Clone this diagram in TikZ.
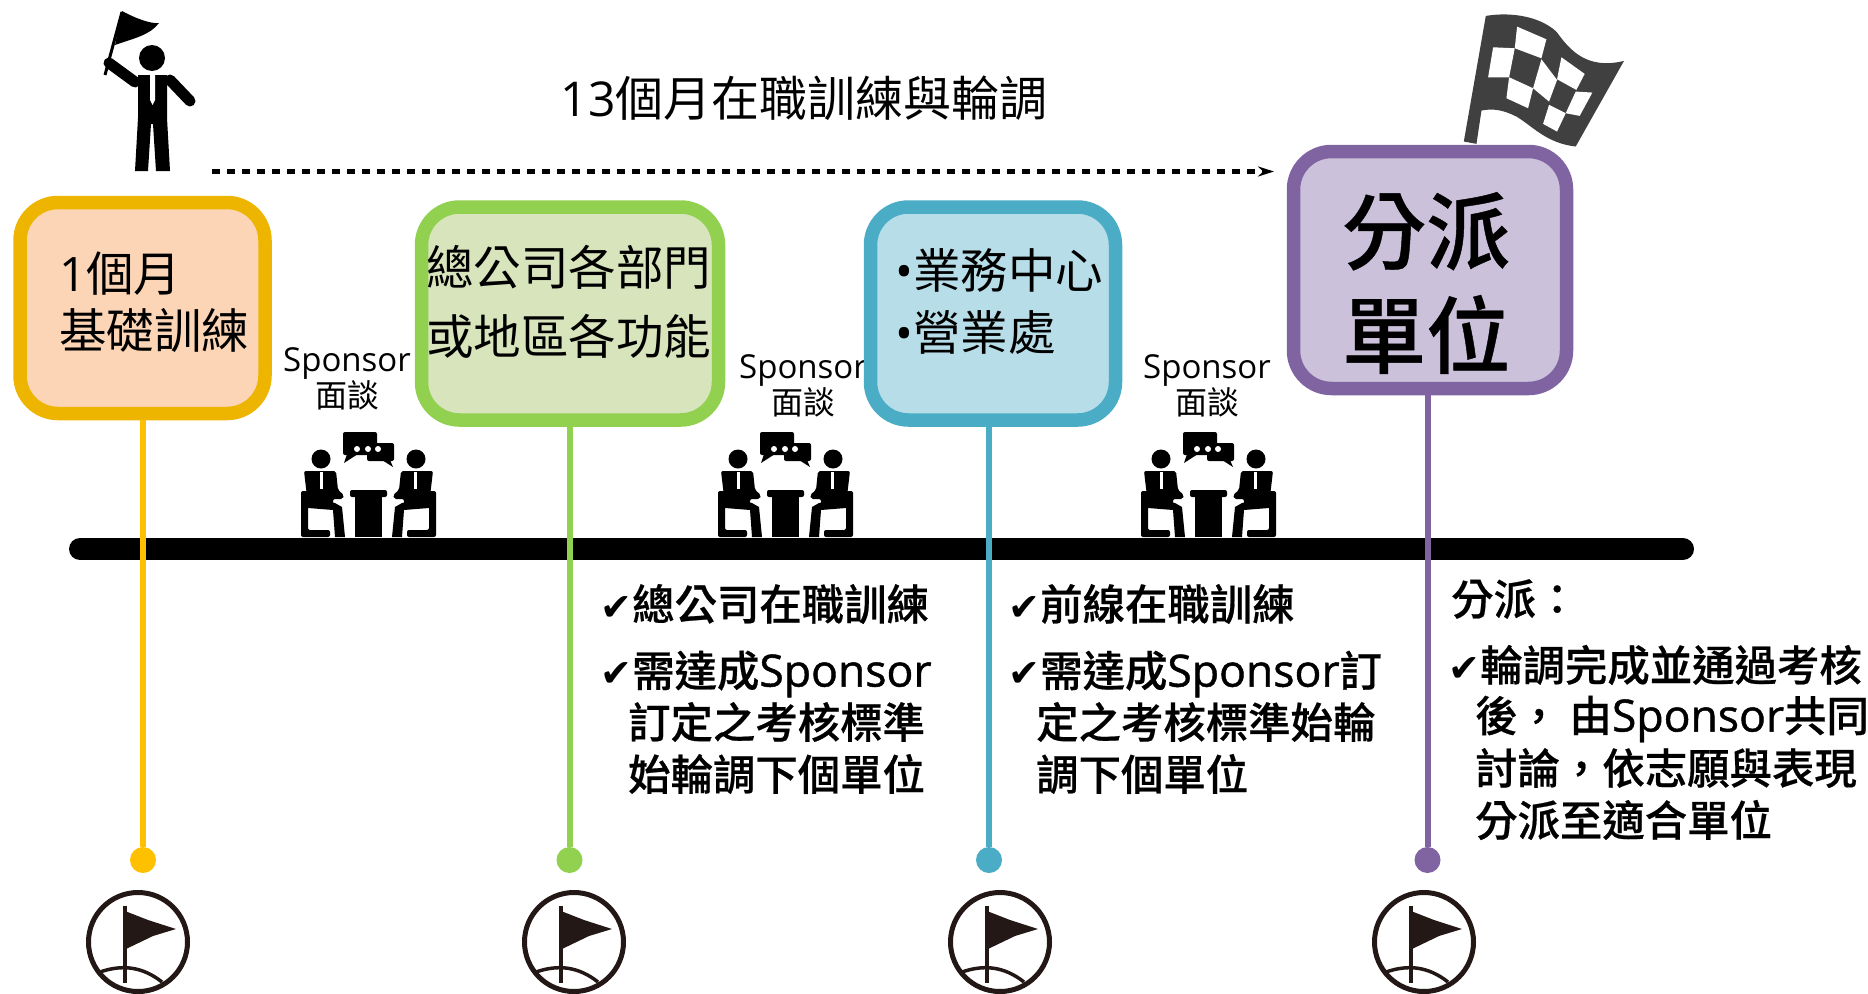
\documentclass[tikz,border=0pt]{standalone}
\usepackage{fontspec}
\setmainfont{Noto Sans CJK TC}
\newfontfamily\med[FakeBold=0.5]{Noto Sans CJK TC Medium}
\newfontfamily\lat{Open Sans}
\newfontfamily\latm[FakeBold=1]{Open Sans}
\newfontfamily\symf{DejaVu Sans}
\usetikzlibrary{arrows.meta}
\definecolor{yelline}{HTML}{FFC000}
\definecolor{yelborder}{HTML}{EEB500}
\definecolor{yelfill}{HTML}{FBD5B5}
\definecolor{grnborder}{HTML}{92D050}
\definecolor{grnfill}{HTML}{D8E4BC}
\definecolor{bluborder}{HTML}{4BACC6}
\definecolor{blufill}{HTML}{B7DDE8}
\definecolor{purborder}{HTML}{8064A2}
\definecolor{purfill}{HTML}{CCC1DA}
\definecolor{flagdark}{HTML}{404040}
\definecolor{icondark}{HTML}{231815}
\newcommand{\fs}[2]{\fontsize{#1}{#2}\selectfont}
\newcommand{\chk}{\makebox[32pt][l]{\fs{38}{48}\symf ✔}}
\newcommand{\spn}{{\latm\fs{44.5}{48}Sponsor}}
\tikzset{
	stagebox/.style={draw, rounded corners=38pt, line width=13.5pt, inner sep=0pt},
	stagetext/.style={anchor=west, align=left, inner sep=0pt},
	listline/.style={anchor=west, inner sep=0pt, font=\fs{42.4}{48}\med},
	talklabel/.style={inner sep=0pt, align=center},
	stem/.style={line width=6pt},
	stemdot/.style={circle, minimum size=26pt, inner sep=0pt},
	pics/flagicon/.style={code={
		\draw[icondark, line width=5pt] (0,0) circle (49.5);
		\draw[icondark, line width=4pt] (-13,-36) -- (-13,41);
		\fill[icondark] (-13,-31) -- (10,-22) -- (38,-13) -- (15,-6) -- (-12,7) -- cycle;
		\draw[icondark, line width=3.5pt] (-38,30) .. controls (-15,22) and (5,25) .. (24,40);
	}},
	pics/talkicon/.style={code={
		\foreach \s/\o in {1/0, -1/137}{
			\begin{scope}[xshift=\o pt, xscale=\s]
				\fill (21,-78) circle (9.5);
				\fill[rounded corners=2pt] (4,-66) -- (36,-66) -- (38,-47) -- (44,-42) -- (43,-38) -- (33,-38) -- (33,-32) -- (8,-32) -- cycle;
				\fill (8,-40) -- (35,-34) -- (42,-30) -- (45,0) -- (35,0) -- (33,-27) -- (8,-29) -- cycle;
				\fill[white] (20,-65) -- (23,-65) -- (23,-48) -- (20,-48) -- cycle;
				\fill[rounded corners=2pt] (1,-46) -- (8,-46) -- (8,-7) -- (30,-7) -- (30,0) -- (1,0) -- cycle;
			\end{scope}
		}
		\fill[rounded corners=2pt] (50,-47) rectangle (87,-40);
		\fill (55,-42) rectangle (82,0);
		\fill[rounded corners=2pt] (43,-105) rectangle (77,-82);
		\fill (47,-83) -- (44,-74) -- (58,-83) -- cycle;
		\fill[rounded corners=2pt] (67,-94) rectangle (94,-76);
		\fill (82,-77) -- (93,-70) -- (90,-77) -- cycle;
		\foreach \c in {57,68,78}{
			\fill[white] (\c,-88) circle (3);
		}
	}},
}
\begin{document}
\begin{tikzpicture}[x=1pt, y=-1pt]
	\useasboundingbox (0,0) rectangle (1868,993);

	% person with flag
	\fill (152,58) circle (13);
	\draw[line width=3pt] (105,75) -- (122,12);
	\fill (122,11) .. controls (135,18) and (150,24) .. (159,23) .. controls (150,35) and (135,38) .. (115,45) -- cycle;
	\draw[line width=11pt, line cap=round] (109,63) -- (135,82);
	\draw[line width=11pt, line cap=round] (170,80) -- (190,101);
	\fill (138,75) -- (167,75) -- (167,118) -- (170,171) -- (156,171) -- (153,124) -- (151,124) -- (148,171) -- (135,171) -- (138,118) -- cycle;
	\fill[white] (150,75) -- (155,75) -- (155,100) -- (152.5,105) -- (150,100) -- cycle;

	% finish flag
	\begin{scope}[shift={(1270,0)}, x=0.333pt, y=-0.333pt]
		\fill[flagdark] (582,425) -- (648,48) .. controls (700,38) and (800,40) .. (860,95) .. controls (900,150) and (950,210) .. (1063,183) -- (918,440) .. controls (830,430) and (790,380) .. (740,350) .. controls (700,330) and (670,325) .. (635,332) -- (620,432) -- cycle;
		\fill[white] (742,80) -- (830,118) -- (815,175) -- (735,145) -- cycle;
		\fill[white] (670,142) -- (735,145) -- (718,232) -- (655,232) -- cycle;
		\fill[white] (875,172) -- (945,222) -- (920,270) -- (862,238) -- cycle;
		\fill[white] (815,178) -- (862,240) -- (838,305) -- (790,265) -- cycle;
		\fill[white] (718,232) -- (790,265) -- (775,325) -- (710,295) -- cycle;
		\fill[white] (918,275) -- (968,278) -- (930,348) -- (888,340) -- cycle;
		\fill[white] (838,315) -- (888,340) -- (862,395) -- (820,372) -- cycle;
	\end{scope}

	\node (title)[inner sep=0pt] at (804,98) {\fs{48}{56}{\lat 13}個月在職訓練與輪調};
	\coordinate (dashl) at (212,171.5);
	\coordinate (dashr) at (1274,171.5);
	\draw[line width=4.5pt, dash pattern=on 8pt off 7pt, -{Stealth[length=16pt, width=10pt]}] (dashl) -- (dashr);

	% interview labels
	\node (talka)[talklabel] at (347,378.5) {\fs{33}{39}{\lat Sponsor}\\\fs{32}{41}面談};
	\node (talkb)[talklabel] at (803,385.5) {\fs{33}{39}{\lat Sponsor}\\\fs{32}{41}面談};
	\node (talkc)[talklabel] at (1207,385.5) {\fs{33}{39}{\lat Sponsor}\\\fs{32}{41}面談};
	\pic (meeta) at (300,537) {talkicon};
	\pic (meetb) at (717,537) {talkicon};
	\pic (meetc) at (1140,537) {talkicon};

	% time bar
	\coordinate (barl) at (80,549);
	\coordinate (barr) at (1683,549);
	\draw[line width=22pt, line cap=round] (barl) -- (barr);

	% stages
	\node (boxa)[stagebox, draw=yelborder, fill=yelfill, minimum width=245pt, minimum height=211pt] at (142.5,308) {};
	\node (boxb)[stagebox, draw=grnborder, fill=grnfill, minimum width=297pt, minimum height=213pt] at (570,313.5) {};
	\node (boxc)[stagebox, draw=bluborder, fill=blufill, minimum width=245pt, minimum height=213pt] at (993,313.5) {};
	\node (boxd)[stagebox, draw=purborder, fill=purfill, minimum width=273pt, minimum height=237pt] at (1430,270) {};

	\node (texta)[stagetext, font=\fs{47.5}{57}] at (59,302) {{\lat 1}個月\\基礎訓練};
	\node (textb)[stagetext, font=\fs{47.5}{69}] at (426,302) {總公司各部門\\或地區各功能};
	\node (textc)[stagetext, font=\fs{47.5}{62}] at (895,302) {{\lat\fs{47.5}{62}•}業務中心\\{\lat\fs{47.5}{62}•}營業處};
	\node (textd)[stagetext, font=\fs{84}{104}\med] at (1342,283) {分派\\單位};

	\node (dota)[stemdot, fill=yelline] at (143,860) {};
	\node (dotb)[stemdot, fill=grnborder] at (569.5,860) {};
	\node (dotc)[stemdot, fill=bluborder] at (989,860) {};
	\node (dotd)[stemdot, fill=purborder] at (1427.5,860) {};
	\draw[stem, yelline] (boxa.south -| dota) -- (dota);
	\draw[stem, grnborder] (boxb.south -| dotb) -- (dotb);
	\draw[stem, bluborder] (boxc.south -| dotc) -- (dotc);
	\draw[stem, purborder] (boxd.south -| dotd) -- (dotd);

	\pic (flaga) at (138,942) {flagicon};
	\pic (flagb) at (574,942) {flagicon};
	\pic (flagc) at (1000,942) {flagicon};
	\pic (flagd) at (1424,942) {flagicon};

	% notes
	\node (noteb1)[listline] at (600,604) {\chk 總公司在職訓練};
	\node (noteb2)[listline] at (600,674) {\chk 需達成\spn};
	\node (noteb3)[listline] at (628,722) {訂定之考核標準};
	\node (noteb4)[listline] at (628,774) {始輪調下個單位};
	\node (notec1)[listline] at (1008,604) {\chk 前線在職訓練};
	\node (notec2)[listline] at (1008,674) {\chk 需達成\spn 訂};
	\node (notec3)[listline] at (1036,722) {定之考核標準始輪};
	\node (notec4)[listline] at (1036,774) {調下個單位};
	\node (noted1)[listline] at (1451,599) {分派：};
	\node (noted2)[listline] at (1448,665) {\chk 輪調完成並通過考核};
	\node (noted3)[listline] at (1475,719) {後， 由\spn 共同};
	\node (noted4)[listline] at (1475,768) {討論，依志願與表現};
	\node (noted5)[listline] at (1475,820) {分派至適合單位};
\end{tikzpicture}
\end{document}
